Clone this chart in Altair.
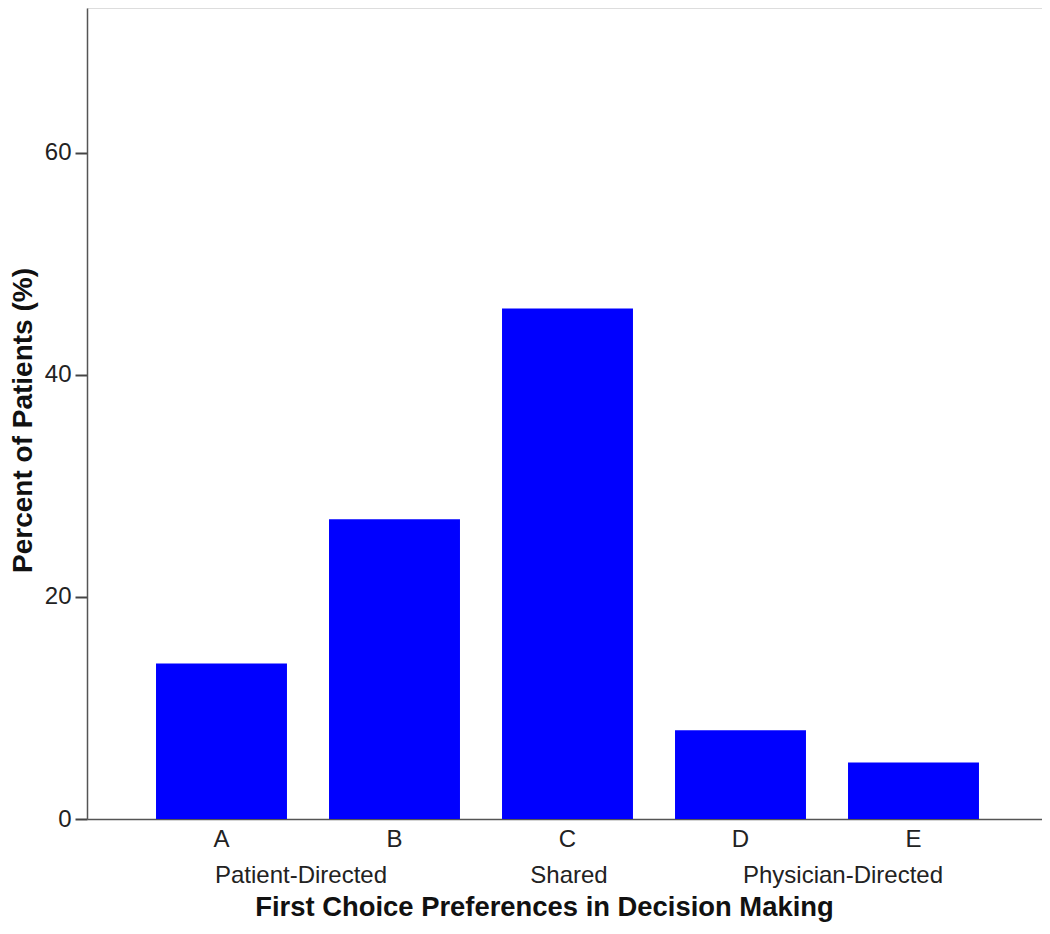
import altair as alt
import pandas as pd

categories = ["A", "B", "C", "D", "E"]
percents = [14.0, 27.0, 46.0, 8.0, 5.1]
y_ticks = [0, 20, 40, 60]
group_labels = ["Patient-Directed", "Shared", "Physician-Directed"]
group_anchor = ["A", "C", "D"]

FONT = "Liberation Sans"
W, H = 955, 811

df = pd.DataFrame({"cat": categories, "pct": percents})

xscale = alt.Scale(domain=categories, paddingInner=0.243, paddingOuter=0.3816, align=0.5227)
yscale = alt.Scale(domain=[0, 73.06], nice=False, zero=True)

bars = alt.Chart(df).mark_bar(color="#0000FF").encode(
    x=alt.X("cat:N", scale=xscale, sort=categories,
            axis=alt.Axis(title="First Choice Preferences in Decision Making",
                          labelAngle=0, ticks=False, tickSize=0,
                          labelPadding=27, labelBaseline="alphabetic",
                          labelFontSize=24, labelFont=FONT, labelColor="#222222",
                          titleFont=FONT, titleFontSize=27.4, titleFontWeight="bold",
                          titleColor="#111111", titleX=457, titleY=96,
                          titleBaseline="alphabetic", titleAlign="center",
                          domainColor="#555555", domainWidth=1.5, grid=False)),
    y=alt.Y("pct:Q", scale=yscale,
            axis=alt.Axis(title="Percent of Patients (%)", values=y_ticks,
                          tickSize=12, tickColor="#444444", tickWidth=2,
                          labelPadding=4, labelFontSize=24, labelFont=FONT,
                          labelColor="#222222",
                          titleFont=FONT, titleFontSize=28, titleFontWeight="bold",
                          titleColor="#111111", titleX=-56, titleY=412,
                          titleBaseline="alphabetic", titleAlign="center", titleAngle=270,
                          domainColor="#555555", domainWidth=1.5, grid=False)),
)

dx_offsets = {"Patient-Directed": 79.5, "Shared": 1.5, "Physician-Directed": 102.5}

layers = [bars]
for lab, anc in zip(group_labels, group_anchor):
    gdf = pd.DataFrame({"cat": [anc], "label": [lab]})
    layers.append(
        alt.Chart(gdf).mark_text(font=FONT, fontSize=24, color="#222222",
                                 align="center", baseline="alphabetic",
                                 dx=dx_offsets[lab]).encode(
            x=alt.X("cat:N", scale=xscale, sort=categories),
            y=alt.value(875),
            text="label:N",
        )
    )

chart = alt.layer(*layers).properties(
    width=W, height=H,
    padding={"left": 79, "top": 0, "right": 0, "bottom": 104},
    autosize=alt.AutoSizeParams(type="none"),
).configure_view(strokeWidth=0).configure(background="white")

chart.save("out.html", embed_options={"renderer": "svg", "actions": False})
